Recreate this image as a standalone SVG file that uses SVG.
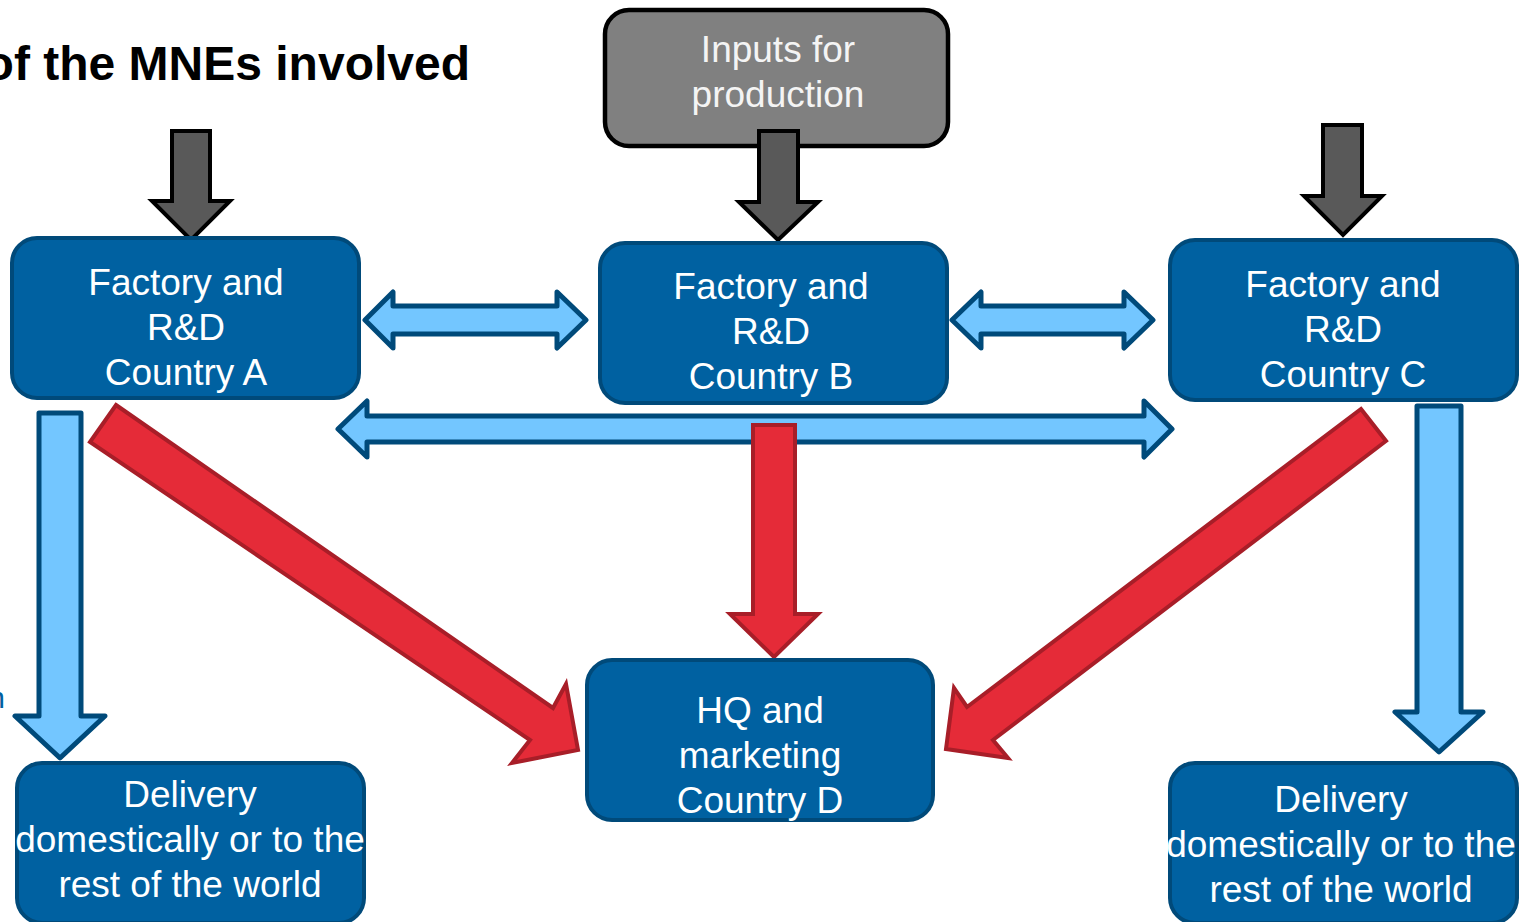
<svg xmlns="http://www.w3.org/2000/svg" width="1530" height="922" viewBox="0 0 1530 922">
<style>
.box{fill:#0061A1;stroke:#004A7A;stroke-width:4}
.inp{fill:#808080;stroke:#000;stroke-width:4.5}
.bt{fill:#fff;font-family:"Liberation Sans",Arial,sans-serif;font-size:37px;text-anchor:middle}
.gt{fill:#f4f4f4;font-family:"Liberation Sans",Arial,sans-serif;font-size:37px;text-anchor:middle}
.ga{fill:#595959;stroke:#000;stroke-width:4;stroke-linejoin:miter}
.la{fill:#73C6FF;stroke:#004A7A;stroke-width:5;stroke-linejoin:round}
.ra{fill:#E52B38;stroke:#A81E28;stroke-width:4;stroke-linejoin:miter}
</style>
<rect width="1530" height="922" fill="#fff"/>
<text x="470" y="80" font-family="'Liberation Sans',Arial,sans-serif" font-size="48" font-weight="bold" text-anchor="end" fill="#000">of the MNEs involved</text>
<text x="5" y="708" font-family="'Liberation Sans',Arial,sans-serif" font-size="30" text-anchor="end" fill="#0061A1">n</text>

<g id="inputs">
<rect class="inp" x="605" y="10" width="343" height="136" rx="24"/>
<text class="gt" x="778" y="62">Inputs for</text>
<text class="gt" x="778" y="107">production</text>
</g>

<g id="connectors">
<polygon class="ga" points="172,131 210,131 210,201 230,201 191,240 152,201 172,201"/>
<polygon class="ga" points="759,131 798,131 798,202 818,202 778,240 739,202 759,202"/>
<polygon class="ga" points="1323,125 1362,125 1362,196 1382,196 1343,235 1304,196 1323,196"/>
<polygon class="la" points="365,320 393,292 393,306 557,306 557,292 586,320 557,348 557,334 393,334 393,348"/>
<polygon class="la" points="952,320 981,292 981,306 1124,306 1124,292 1153,320 1124,348 1124,334 981,334 981,348"/>
<polygon class="la" points="338,429 367,401 367,416 1144,416 1144,401 1172,429 1144,457 1144,442 367,442 367,457"/>
<polygon class="la" points="39,413 81,413 81,716 105,716 60,758 15,716 39,716"/>
<polygon class="la" points="1417,406 1461,406 1461,712 1483,712 1439,752 1395,712 1417,712"/>
<polygon class="ra" points="753,425 795,425 795,614 818,614 774,657 730,614 753,614"/>
<polygon class="ra" points="116,405 553,708 566,684 578,750 512,763 530,740 90,442"/>
<polygon class="ra" points="1361,409 1386,441 993,740 1008,758 946,749 954,688 967,707"/>
</g>

<g id="nodeA">
<rect class="box" x="12" y="238" width="347" height="160" rx="25"/>
<text class="bt" x="186" y="295">Factory and</text>
<text class="bt" x="186" y="340">R&amp;D</text>
<text class="bt" x="186" y="385">Country A</text>
</g>
<g id="nodeB">
<rect class="box" x="600" y="243" width="347" height="160" rx="25"/>
<text class="bt" x="771" y="299">Factory and</text>
<text class="bt" x="771" y="344">R&amp;D</text>
<text class="bt" x="771" y="389">Country B</text>
</g>
<g id="nodeC">
<rect class="box" x="1170" y="240" width="347" height="160" rx="25"/>
<text class="bt" x="1343" y="297">Factory and</text>
<text class="bt" x="1343" y="342">R&amp;D</text>
<text class="bt" x="1343" y="387">Country C</text>
</g>
<g id="nodeD">
<rect class="box" x="587" y="660" width="346" height="160" rx="25"/>
<text class="bt" x="760" y="723">HQ and</text>
<text class="bt" x="760" y="768">marketing</text>
<text class="bt" x="760" y="813">Country D</text>
</g>
<g id="deliveryLeft">
<rect class="box" x="17" y="763" width="347" height="160" rx="25"/>
<text class="bt" x="190" y="807">Delivery</text>
<text class="bt" x="190" y="852">domestically or to the</text>
<text class="bt" x="190" y="897">rest of the world</text>
</g>
<g id="deliveryRight">
<rect class="box" x="1170" y="763" width="347" height="160" rx="25"/>
<text class="bt" x="1341" y="812">Delivery</text>
<text class="bt" x="1341" y="857">domestically or to the</text>
<text class="bt" x="1341" y="902">rest of the world</text>
</g>
</svg>
